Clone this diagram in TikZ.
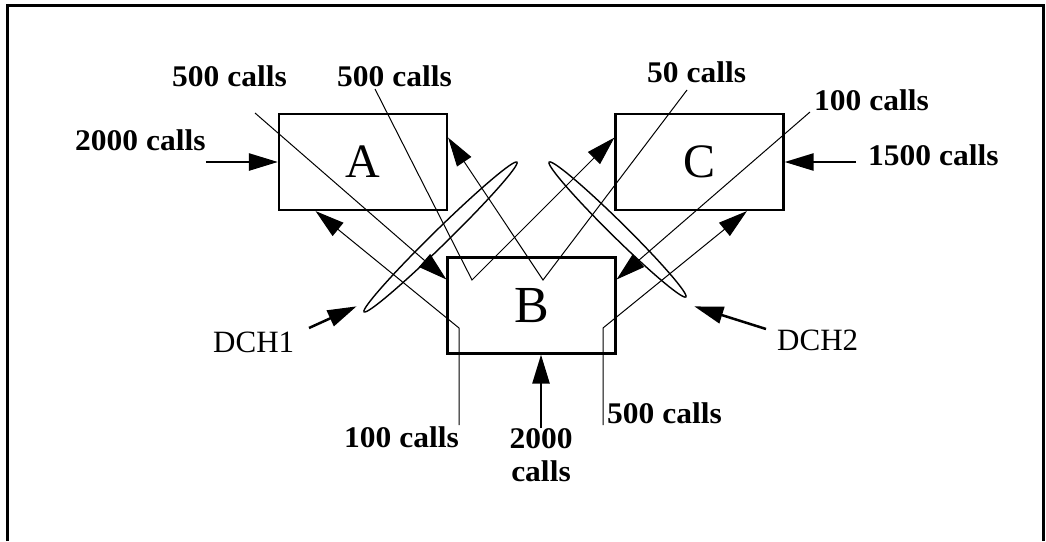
\documentclass[tikz,border=0pt]{standalone}
\usepackage{fontspec}
\setmainfont{Liberation Serif}
\newfontfamily\callfont[FakeStretch=1.05]{Liberation Serif}
\usetikzlibrary{arrows.meta,shapes.geometric}

\begin{document}
\begin{tikzpicture}[x=1pt, y=-1pt, >={Triangle[length=29pt,width=17pt]},
        box/.style={draw, line width=2.2pt, minimum width=168pt, minimum height=96pt,
                inner sep=0pt, font=\fontsize{48}{48}\selectfont},
        calls/.style={inner sep=0pt, font=\callfont\bfseries\fontsize{30}{33}\selectfont},
        dch/.style={inner sep=0pt, font=\fontsize{31}{31}\selectfont},
        ring/.style={draw, ellipse, line width=1.4pt, inner sep=0pt, minimum height=15pt},
        flow/.style={line width=1pt},
        feed/.style={line width=2.5pt}]
        \useasboundingbox (0,0) rectangle (1046,541);
        \draw [line width=3pt](7.5,541)--(7.5,5.5)--(1043.5,5.5)--(1043.5,541);

        % cells
        \node (A) [box] at (363,162) {A};
        \node (C) [box] at (699.5,162) {C};
        \node (B) [box, font=\fontsize{52}{52}\selectfont] at (531.5,305.5) {B};

        % offered traffic
        \node (inA) [calls, anchor=base west] at (75,150) {2000 calls};
        \node (inC) [calls, anchor=base west] at (868,165) {1500 calls};
        \node (inB) [calls, align=center, anchor=north] at (541,428) {2000\\calls};
        \draw [feed,->](inA.east |- A.west)--(A.west);
        \draw [feed,->]([xshift=-12pt]inC.west |- C.east)--(C.east);
        \draw [feed,->](inB.north)--(inB.north |- B.south);

        % overflow between cells
        \node (lab) [calls, anchor=base west] at (172,86) {500 calls};
        \node (lbc) [calls, anchor=base west] at (337,86) {500 calls};
        \node (lca) [calls, anchor=base west] at (647,82) {50 calls};
        \node (lcb) [calls, anchor=base west] at (814,110) {100 calls};
        \node (lba) [calls, anchor=base west] at (344,447) {100 calls};
        \node (lbc2) [calls, anchor=base west] at (607,423) {500 calls};
        \coordinate (ab) at (255,113);
        \coordinate (bc) at (375,89);
        \coordinate (bcv) at (472,280);
        \coordinate (ca) at (687,90);
        \coordinate (cav) at (543,280);
        \coordinate (cb) at (810,112);
        \coordinate (ba) at (459,425);
        \coordinate (bak) at (459,328);
        \coordinate (bc2) at (603,425);
        \coordinate (bc2k) at (603,328);
        \draw [flow,->](ab)--(B.163);
        \draw [flow,->](bc)--(bcv)--(C.164);
        \draw [flow,->](ca)--(cav)--(A.16);
        \draw [flow,->](cb)--(B.17);
        \draw [flow,->](ba)--(bak)--(A.226);
        \draw [flow,->](bc2)--(bc2k)--(C.314);

        % channel groups
        \node (ring1) [ring, rotate=44.4, minimum width=214pt] at (440.5,237) {};
        \node (ring2) [ring, rotate=-44.6, minimum width=192pt] at (617.5,229.5) {};
        \node (dch1) [dch, anchor=base west] at (213,352) {DCH1};
        \node (dch2) [dch, anchor=base west] at (777,350) {DCH2};
        \coordinate (d1) at (309,328);
        \coordinate (d2) at (766,329);
        \draw [feed,->](d1)--([shift={(-7,-6)}]ring1.west);
        \draw [feed,->](d2)--([shift={(8,9)}]ring2.east);
\end{tikzpicture}
\end{document}
